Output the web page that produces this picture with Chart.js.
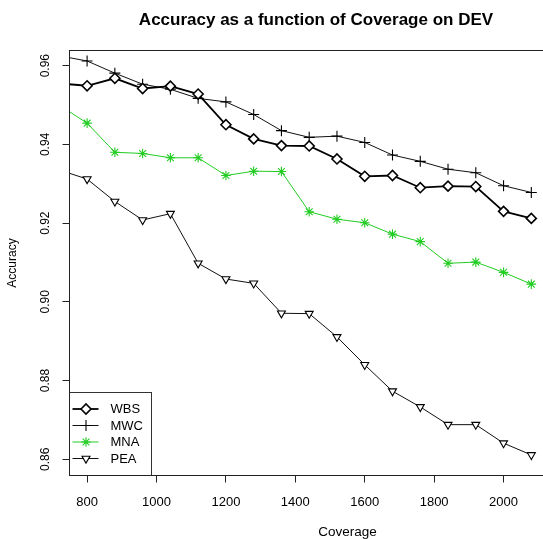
<!DOCTYPE html>
<html>
<head>
<meta charset="utf-8">
<title>Accuracy as a function of Coverage on DEV</title>
<script src="https://cdn.jsdelivr.net/npm/chart.js@4.4.1/dist/chart.umd.min.js"></script>
<style>
    html, body { margin: 0; padding: 0; background: #fff; overflow: hidden; }
    canvas { display: block; }
</style>
</head>
<body>
<canvas id="accChart" width="632" height="539"></canvas>
<script>
// Значения (первая точка 720 лежит левее области и обрезается)
const coverage = [720, 800, 880, 960, 1040, 1120, 1200, 1280, 1360, 1440, 1520, 1600, 1680, 1760, 1840, 1920, 2000, 2080];
const wbs = [0.9555, 0.9549, 0.9568, 0.9542, 0.9548, 0.9528, 0.9450, 0.9414, 0.9397, 0.9396, 0.9363, 0.9319, 0.9321, 0.9290, 0.9294, 0.9293, 0.9230, 0.9212];
const mwc = [0.9625, 0.9612, 0.9581, 0.9553, 0.9540, 0.9517, 0.9508, 0.9476, 0.9435, 0.9418, 0.9421, 0.9405, 0.9373, 0.9357, 0.9337, 0.9328, 0.9295, 0.9278];
const mna = [0.9500, 0.9454, 0.9380, 0.9377, 0.9366, 0.9366, 0.9321, 0.9332, 0.9331, 0.9229, 0.9210, 0.9201, 0.9172, 0.9153, 0.9098, 0.9101, 0.9075, 0.9045];
const pea = [0.9335, 0.9312, 0.9255, 0.9208, 0.9224, 0.9098, 0.9058, 0.9047, 0.8971, 0.8970, 0.8911, 0.8840, 0.8773, 0.8733, 0.8688, 0.8688, 0.8641, 0.8611];

const seriesNames = ['WBS', 'MWC', 'MNA', 'PEA'];
const xTicks = [800, 1000, 1200, 1400, 1600, 1800, 2000];
const yTicks = [0.86, 0.88, 0.90, 0.92, 0.94, 0.96];

const FONT = "'Liberation Sans', Arial, Helvetica, sans-serif";
const GREEN = '#22cc22';

const toPoints = (values) => values.map((v, i) => ({ x: coverage[i], y: v }));

// рамка вокруг области графика, как box() в R
const plotBox = {
    id: 'plotBox',
    afterDraw(chart) {
        const { ctx, chartArea } = chart;
        ctx.save();
        ctx.strokeStyle = '#222';
        ctx.lineWidth = 1;
        ctx.strokeRect(chartArea.left, chartArea.top,
            chartArea.right - chartArea.left, chartArea.bottom - chartArea.top);
        ctx.restore();
    },
};

// легенда в левом нижнем углу области графика
const cornerLegend = {
    id: 'cornerLegend',
    afterDatasetsDraw(chart) {
        const { ctx, chartArea } = chart;
        const left = chartArea.left;
        const bottom = chartArea.bottom;
        const top = bottom - 83;
        const width = 82;
        const rowH = 16.5;

        ctx.save();
        ctx.fillStyle = '#fff';
        ctx.fillRect(left, top, width, bottom - top);
        ctx.strokeStyle = '#333';
        ctx.lineWidth = 1;
        ctx.strokeRect(left, top, width, bottom - top);

        chart.data.datasets.forEach((ds, i) => {
            const y = top + 16.5 + i * rowH;
            ctx.strokeStyle = ds.borderColor;
            ctx.lineWidth = ds.borderWidth;
            ctx.beginPath();
            ctx.moveTo(left + 3, y);
            ctx.lineTo(left + 29, y);
            ctx.stroke();

            ctx.fillStyle = ds.pointBackgroundColor;
            ctx.strokeStyle = ds.pointBorderColor;
            ctx.lineWidth = ds.pointBorderWidth;
            Chart.helpers.drawPoint(ctx, {
                pointStyle: ds.pointStyle,
                rotation: ds.pointRotation || 0,
                radius: ds.pointRadius,
                borderWidth: ds.pointBorderWidth,
            }, left + 16.5, y);

            ctx.fillStyle = '#000';
            ctx.font = `13px ${FONT}`;
            ctx.textBaseline = 'middle';
            ctx.textAlign = 'left';
            ctx.fillText(ds.label, left + 41, y + 0.5);
        });
        ctx.restore();
    },
};

const baseSet = {
    fill: false,
    tension: 0,
    clip: 0,
    pointHoverRadius: 0,
};

new Chart(document.getElementById('accChart'), {
    type: 'line',
    data: {
        datasets: [
            {
                ...baseSet,
                label: seriesNames[0],
                data: toPoints(wbs),
                borderColor: '#000',
                borderWidth: 1.8,
                pointStyle: 'rectRot',
                pointRadius: 5,
                pointBorderWidth: 1.6,
                pointBorderColor: '#000',
                pointBackgroundColor: '#fff',
            },
            {
                ...baseSet,
                label: seriesNames[1],
                data: toPoints(mwc),
                borderColor: '#111',
                borderWidth: 1,
                pointStyle: 'cross',
                pointRadius: 5.5,
                pointBorderWidth: 1.1,
                pointBorderColor: '#000',
                pointBackgroundColor: 'rgba(0,0,0,0)',
            },
            {
                ...baseSet,
                label: seriesNames[2],
                data: toPoints(mna),
                borderColor: GREEN,
                borderWidth: 1,
                pointStyle: 'star',
                pointRadius: 4.8,
                pointBorderWidth: 1.1,
                pointBorderColor: GREEN,
                pointBackgroundColor: 'rgba(0,0,0,0)',
            },
            {
                ...baseSet,
                label: seriesNames[3],
                data: toPoints(pea),
                borderColor: '#111',
                borderWidth: 1,
                pointStyle: 'triangle',
                pointRotation: 180,
                pointRadius: 4.6,
                pointBorderWidth: 1.1,
                pointBorderColor: '#000',
                pointBackgroundColor: '#fff',
            },
        ],
    },
    options: {
        responsive: false,
        animation: false,
        devicePixelRatio: 1,
        layout: { padding: 0 },
        events: [],
        plugins: {
            legend: { display: false },
            tooltip: { enabled: false },
            title: {
                display: true,
                text: 'Accuracy as a function of Coverage on DEV',
                color: '#000',
                font: { family: FONT, size: 17, weight: 'bold' },
                padding: { top: 9.8, bottom: 20.3 },
            },
        },
        scales: {
            x: {
                type: 'linear',
                min: 749.3,
                max: 2351.1,
                afterBuildTicks: (scale) => { scale.ticks = xTicks.map(v => ({ value: v })); },
                afterFit: (scale) => { scale.height = 63.5; },
                grid: { display: true, drawOnChartArea: false, tickLength: 7, color: '#222' },
                border: { display: false },
                ticks: {
                    color: '#000',
                    padding: 12,
                    maxRotation: 0,
                    autoSkip: false,
                    font: { family: FONT, size: 13 },
                    callback: (v) => String(v),
                },
                title: {
                    display: true,
                    text: 'Coverage',
                    color: '#000',
                    font: { family: FONT, size: 13.5, lineHeight: 1 },
                    padding: { top: 0, bottom: 0 },
                },
            },
            y: {
                type: 'linear',
                min: 0.85588,
                max: 0.96386,
                afterBuildTicks: (scale) => { scale.ticks = yTicks.map(v => ({ value: v })); },
                afterFit: (scale) => { scale.width = 69.5; },
                grid: { display: true, drawOnChartArea: false, tickLength: 7, color: '#222' },
                border: { display: false },
                ticks: {
                    color: '#000',
                    padding: 5,
                    minRotation: 90,
                    maxRotation: 90,
                    crossAlign: 'center',
                    autoSkip: false,
                    font: { family: FONT, size: 12 },
                    callback: (v) => v.toFixed(2),
                },
                title: {
                    display: true,
                    text: 'Accuracy',
                    color: '#000',
                    font: { family: FONT, size: 12 },
                    padding: { top: 5.8, bottom: 0 },
                },
            },
        },
    },
    plugins: [plotBox, cornerLegend],
});
</script>
</body>
</html>
